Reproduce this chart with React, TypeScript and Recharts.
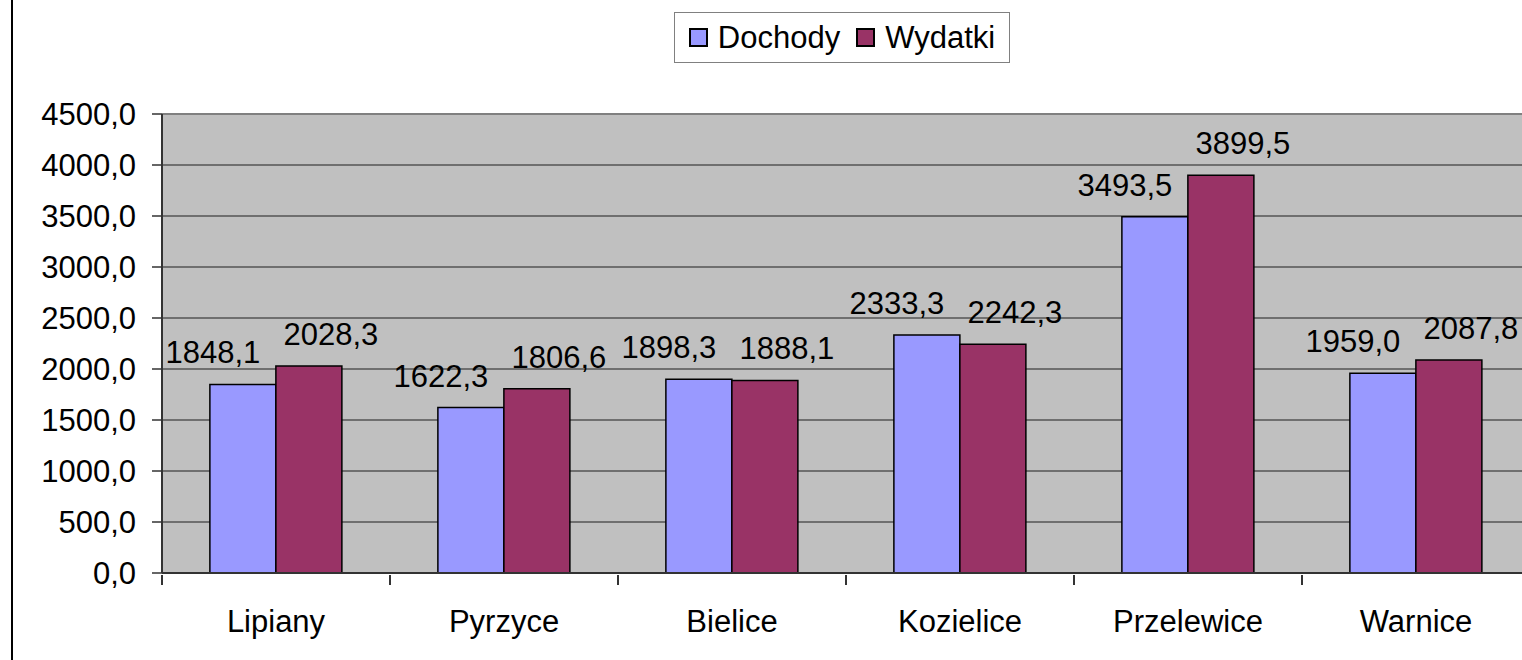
import { BarChart, Bar, XAxis, YAxis, CartesianGrid, LabelList, ReferenceLine } from 'recharts';

const gminy = ['Lipiany', 'Pyrzyce', 'Bielice', 'Kozielice', 'Przelewice', 'Warnice'];
const dochody = [1848.1, 1622.3, 1898.3, 2333.3, 3493.5, 1959.0];
const wydatki = [2028.3, 1806.6, 1888.1, 2242.3, 3899.5, 2087.8];
const yTicks = [0, 500, 1000, 1500, 2000, 2500, 3000, 3500, 4000, 4500];

const data = gminy.map((name, i) => ({ name, Dochody: dochody[i], Wydatki: wydatki[i] }));

const FONT = '"Liberation Sans", Arial, sans-serif';
const FS = 31;
const BAND = 228;

const fmt = (v: number) => v.toFixed(1).replace('.', ',');

const makeLabel = (dx: number) => (props: any) => {
  const { x, y, width, value } = props;
  return (
    <text x={x + width / 2 + dx} y={y - 21} textAnchor="middle" fontSize={FS} fontFamily={FONT} fill="#000">
      {fmt(value)}
    </text>
  );
};

const CategoryTick = (props: any) => {
  const { x, y, payload, index } = props;
  return (
    <g>
      <line x1={x - BAND / 2} x2={x - BAND / 2} y1={y - 35} y2={y - 25} stroke="#333" strokeWidth={2} />
      {index === gminy.length - 1 && (
        <line x1={x + BAND / 2} x2={x + BAND / 2} y1={y - 35} y2={y - 25} stroke="#333" strokeWidth={2} />
      )}
      <text x={x} y={y} dy="0.71em" textAnchor="middle" fontSize={FS} fontFamily={FONT} fill="#000">
        {payload.value}
      </text>
    </g>
  );
};

const LegendBox = () => (
  <div
    style={{
      position: 'absolute',
      left: 674,
      top: 12,
      width: 336,
      height: 51,
      display: 'flex',
      alignItems: 'center',
      justifyContent: 'center',
      gap: 16,
      border: '1.5px solid #808080',
      background: '#fff',
      boxSizing: 'border-box',
      fontFamily: FONT,
      fontSize: FS,
      color: '#000',
    }}
  >
    {[
      ['Dochody', '#9999FF'],
      ['Wydatki', '#993366'],
    ].map(([name, color]) => (
      <div key={name} style={{ display: 'flex', alignItems: 'center', gap: 10 }}>
        <div style={{ width: 15, height: 15, background: color, border: '2px solid #000' }} />
        <span>{name}</span>
      </div>
    ))}
  </div>
);

export default function App() {
  return (
    <div style={{ position: 'absolute', left: 0, top: 0, width: 1522, height: 660, overflow: 'hidden', background: '#fff' }}>
      <div style={{ position: 'absolute', left: 11, top: 0, width: 2, height: 660, background: '#000' }} />
      <BarChart
        width={1540}
        height={660}
        data={data}
        margin={{ top: 114, right: 10, left: 0, bottom: 0 }}
        barCategoryGap="21%"
        barGap={0}
      >
        <CartesianGrid vertical={false} stroke="#555" strokeWidth={1.5} fill="#C0C0C0" />
        <XAxis
          dataKey="name"
          height={87}
          axisLine={{ stroke: '#333', strokeWidth: 2 }}
          tickLine={false}
          tickMargin={31}
          tick={<CategoryTick />}
          interval={0}
        />
        <YAxis
          width={162}
          domain={[0, 4500]}
          ticks={yTicks}
          tickFormatter={fmt}
          axisLine={{ stroke: '#333', strokeWidth: 2 }}
          tickLine={{ stroke: '#333', strokeWidth: 1.5 }}
          tickSize={10}
          tickMargin={16}
          tick={{ fontSize: FS, fontFamily: FONT, fill: '#000' }}
          interval={0}
        />
        <ReferenceLine y={4500} stroke="#808080" strokeWidth={2} />
        <Bar dataKey="Dochody" fill="#9999FF" stroke="#000" strokeWidth={1.5} isAnimationActive={false}>
          <LabelList dataKey="Dochody" content={makeLabel(-30)} />
        </Bar>
        <Bar dataKey="Wydatki" fill="#993366" stroke="#000" strokeWidth={1.5} isAnimationActive={false}>
          <LabelList dataKey="Wydatki" content={makeLabel(22)} />
        </Bar>
      </BarChart>
      <LegendBox />
    </div>
  );
}
